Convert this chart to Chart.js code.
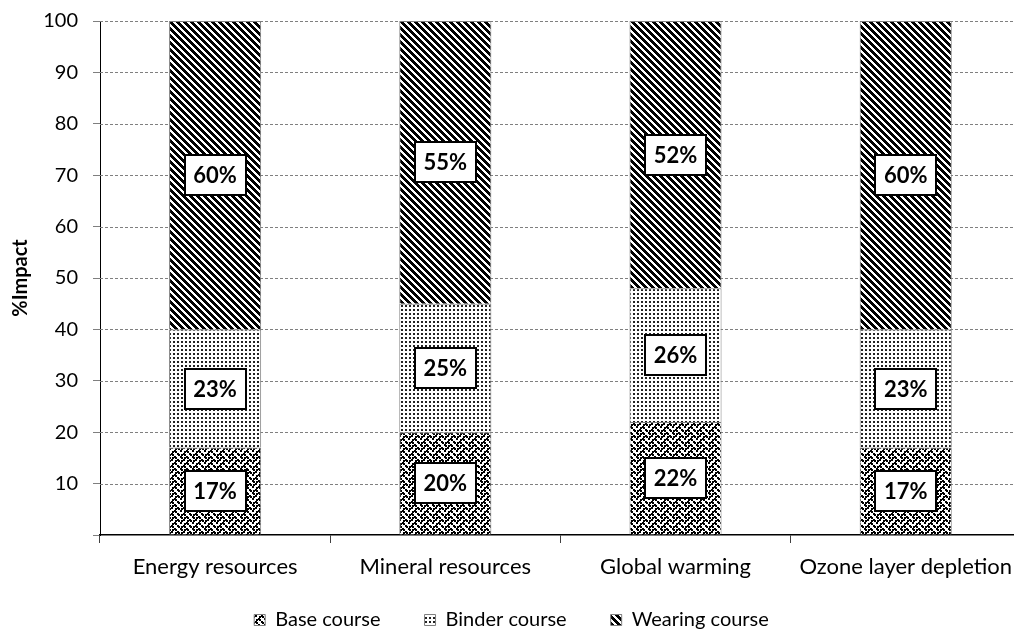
<!DOCTYPE html>
<html>
<head>
<meta charset="utf-8">
<script src="https://cdn.jsdelivr.net/npm/chart.js@4/dist/chart.umd.min.js"></script>
<style>
  html, body { margin: 0; padding: 0; overflow: hidden; background: #fff; }
  #wrap { width: 1023px; height: 635px; }
</style>
</head>
<body>
<div id="wrap"><canvas id="c" width="1023" height="635"></canvas></div>
<script>
// Impact categories and the share (%) of each pavement layer
const categories = ['Energy resources', 'Mineral resources', 'Global warming', 'Ozone layer depletion'];
const seriesNames = ['Base course', 'Binder course', 'Wearing course'];
const baseCourse = [17, 20, 22, 17];
const binderCourse = [23, 25, 26, 23];
const wearingCourse = [60, 55, 52, 60];
const yMin = 0;
const yMax = 100;
const yStep = 10;
const yTitle = '%Impact';

const FONT = 'Lato, "Open Sans", "Noto Sans", sans-serif';

// ---- hatch fills ----
// 8x8 bitmap enlarged by `scale`, each set bit drawn as a small square (wraps at the tile edge)
function bitmapPattern(rows, scale, dot) {
  const n = rows.length;
  const size = Math.round(n * scale);
  const t = document.createElement('canvas');
  t.width = size; t.height = size;
  const c = t.getContext('2d');
  c.fillStyle = '#fff'; c.fillRect(0, 0, size, size);
  c.fillStyle = '#000';
  rows.forEach((r, y) => {
    for (let x = 0; x < n; x++) {
      if (!(r & (1 << (n - 1 - x)))) continue;
      const px = Math.floor(x * scale), py = Math.floor(y * scale);
      for (let dx = 0; dx < dot; dx++)
        for (let dy = 0; dy < dot; dy++)
          c.fillRect((px + dx) % size, (py + dy) % size, 1, 1);
    }
  });
  return c.createPattern(t, 'repeat');
}

function stripePattern(period, dark) {
  const t = document.createElement('canvas');
  t.width = period; t.height = period;
  const c = t.getContext('2d');
  c.fillStyle = '#fff'; c.fillRect(0, 0, period, period);
  c.fillStyle = '#000';
  for (let y = 0; y < period; y++)
    for (let x = 0; x < period; x++)
      if (((x - y) % period + period) % period < dark) c.fillRect(x, y, 1, 1);
  return c.createPattern(t, 'repeat');
}

function dotPattern(period, dot, color) {
  const t = document.createElement('canvas');
  t.width = period; t.height = period;
  const c = t.getContext('2d');
  c.fillStyle = '#fff'; c.fillRect(0, 0, period, period);
  c.fillStyle = color;
  c.fillRect(1, 1, dot, dot);
  return c.createPattern(t, 'repeat');
}

const ctx = document.getElementById('c').getContext('2d');
const weaveFill = bitmapPattern([0x88, 0x54, 0x22, 0x45, 0x88, 0x14, 0x22, 0x51], 1.5, 2);
const dotFill = dotPattern(4, 2, '#222');
const stripeFill = stripePattern(7, 4);

// dashed horizontal gridlines
const dashedGrid = {
  id: 'dashedGrid',
  beforeDatasetsDraw(chart) {
    const { ctx: c, chartArea: a, scales: { y } } = chart;
    c.save();
    c.strokeStyle = '#7f7f7f';
    c.lineWidth = 1;
    c.setLineDash([3, 2]);
    y.ticks.forEach(t => {
      if (t.value === yMin) return;
      const py = Math.round(y.getPixelForValue(t.value)) + 0.5;
      c.beginPath();
      c.moveTo(a.left, py);
      c.lineTo(a.right, py);
      c.stroke();
    });
    c.restore();
  }
};

// raise the legend row so it sits just under the category labels
const legendOffset = {
  id: 'legendOffset',
  afterLayout(chart) {
    const l = chart.legend;
    if (!l) return;
    l.top -= 16;
    l.height += 16;
  }
};

// boxed percentage labels in the middle of each segment
const segmentLabels = {
  id: 'segmentLabels',
  afterDatasetsDraw(chart) {
    const c = chart.ctx;
    c.save();
    c.font = 'bold 22px ' + FONT;
    c.textAlign = 'center';
    c.textBaseline = 'middle';
    chart.data.datasets.forEach((ds, di) => {
      const meta = chart.getDatasetMeta(di);
      meta.data.forEach((bar, i) => {
        const { x, y, base } = bar.getProps(['x', 'y', 'base'], true);
        const cy = (y + base) / 2;
        const text = ds.data[i] + '%';
        const w = Math.round(c.measureText(text).width + 17);
        const h = 40;
        const bx = Math.round(x - w / 2), by = Math.round(cy - h / 2);
        c.fillStyle = '#fff';
        c.fillRect(bx, by, w, h);
        c.lineWidth = 2;
        c.strokeStyle = '#000';
        c.strokeRect(bx, by, w, h);
        c.fillStyle = '#000';
        c.fillText(text, x, cy + 1);
      });
    });
    c.restore();
  }
};

new Chart(ctx, {
  type: 'bar',
  data: {
    labels: categories,
    datasets: [
      { label: seriesNames[0], data: baseCourse, backgroundColor: weaveFill, borderColor: '#7f7f7f', borderWidth: 1 },
      { label: seriesNames[1], data: binderCourse, backgroundColor: dotFill, borderColor: '#7f7f7f', borderWidth: 1 },
      { label: seriesNames[2], data: wearingCourse, backgroundColor: stripeFill, borderColor: '#7f7f7f', borderWidth: 1 }
    ]
  },
  options: {
    responsive: false,
    animation: false,
    layout: { padding: { top: 21, left: 0, right: 0, bottom: 0 } },
    datasets: { bar: { barPercentage: 1, categoryPercentage: 0.4 } },
    scales: {
      x: {
        stacked: true,
        afterFit(s) { s.height = 47; },
        grid: { display: true, offset: true, drawOnChartArea: false, drawTicks: true, tickLength: 8, tickColor: '#404040' },
        border: { color: '#000', width: 1.5 },
        ticks: { color: '#000', font: { family: FONT, size: 22 }, padding: 11, maxRotation: 0, autoSkip: false }
      },
      y: {
        stacked: true,
        min: yMin,
        max: yMax,
        afterFit(s) { s.width = 100; s.paddingTop = 21; },
        grid: { drawOnChartArea: false, drawTicks: true, tickLength: 7, tickColor: '#7f7f7f' },
        border: { color: '#000', width: 1 },
        ticks: {
          stepSize: yStep,
          color: '#000',
          padding: 15,
          font: { family: FONT, size: 20 },
          callback: v => (v === yMin ? '' : v)
        },
        title: { display: true, text: yTitle, color: '#000', font: { family: FONT, size: 20, weight: 'bold' }, padding: { top: 9, bottom: 0 } }
      }
    },
    plugins: {
      legend: {
        position: 'bottom',
        maxHeight: 53,
        labels: { boxWidth: 11, boxHeight: 11, padding: 44, color: '#000', font: { family: FONT, size: 20 } }
      },
      tooltip: { enabled: false }
    }
  },
  plugins: [dashedGrid, segmentLabels, legendOffset]
});
</script>
</body>
</html>
